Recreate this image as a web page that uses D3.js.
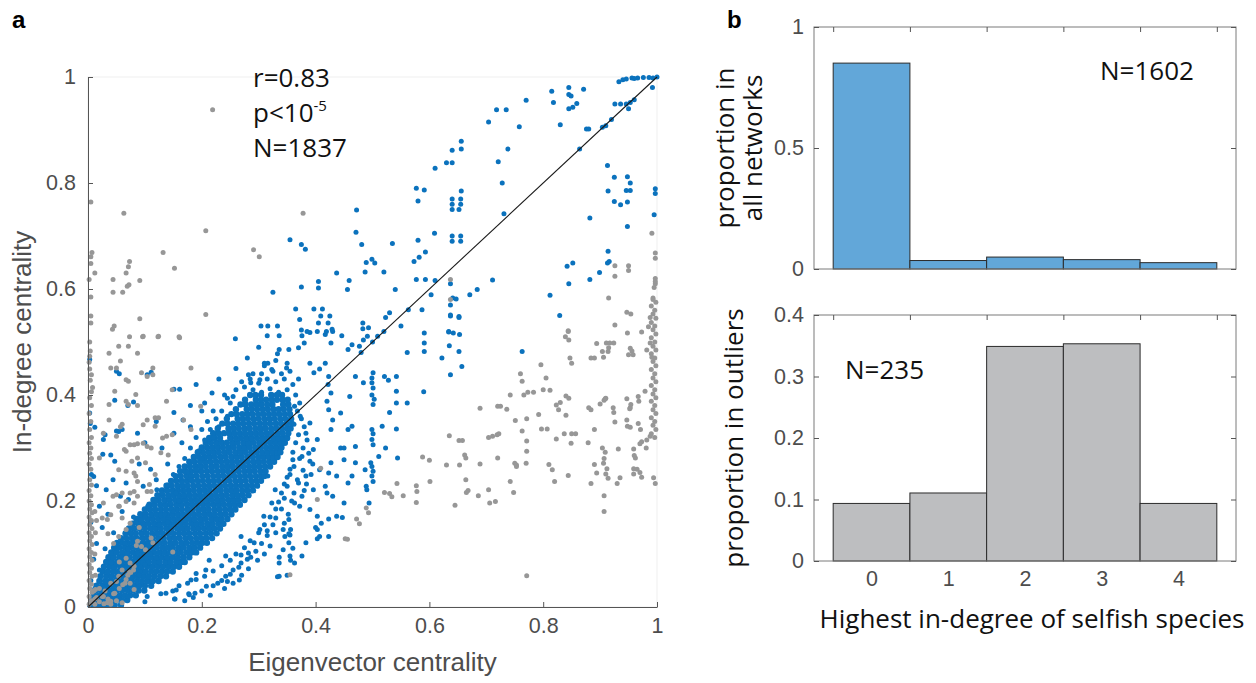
<!DOCTYPE html>
<html>
<head>
<meta charset="utf-8">
<script src="https://cdn.jsdelivr.net/npm/d3@7"></script>
<style>
  html, body { margin: 0; padding: 0; background: #fff; }
  svg { display: block; }
  .tick text { font-family: "Liberation Sans", Arial, sans-serif; }
</style>
</head>
<body>
<svg id="fig" width="1256" height="683"></svg>
<script>
// ---------- panel a: eigenvector vs in-degree centrality ----------
const scatterTicks = [0, 0.2, 0.4, 0.6, 0.8, 1];

// Dense core of the non-outlier networks: rows of [inDegree, [eigenvector values]]
const coreRows = [
  [.004, [.004,.012,.021,.029,.038,.047,.058]],
  [.013, [.006,.015,.024,.033,.041,.05,.06,.069]],
  [.022, [.01,.019,.028,.037,.046,.056,.065,.074,.084]],
  [.031, [.013,.023,.032,.041,.05,.06,.07,.079,.089,.099]],
  [.040, [.015,.025,.034,.044,.053,.062,.072,.081,.09,.1,.111]],
  [.049, [.02,.03,.039,.048,.058,.067,.076,.086,.095,.105,.114,.124]],
  [.058, [.022,.032,.041,.051,.06,.07,.079,.088,.098,.107,.117,.127,.137]],
  [.067, [.026,.035,.045,.054,.064,.073,.083,.092,.101,.111,.12,.13,.139,.149]],
  [.076, [.028,.038,.047,.057,.066,.075,.085,.094,.104,.113,.123,.132,.142,.151,.16]],
  [.085, [.032,.041,.051,.06,.07,.079,.089,.098,.107,.117,.126,.136,.145,.155,.164,.17]],
  [.094, [.036,.045,.055,.064,.073,.083,.092,.102,.111,.121,.13,.139,.149,.158,.168,.178]],
  [.103, [.041,.05,.06,.069,.079,.088,.097,.107,.116,.126,.135,.144,.154,.163,.173,.182,.19]],
  [.112, [.046,.055,.065,.074,.084,.093,.102,.112,.121,.131,.14,.149,.159,.168,.178,.187,.197]],
  [.121, [.051,.06,.07,.079,.088,.098,.107,.117,.126,.135,.145,.154,.164,.173,.183,.192,.201,.209]],
  [.130, [.058,.067,.077,.086,.096,.105,.114,.124,.133,.143,.152,.161,.171,.18,.19,.199,.208,.218]],
  [.139, [.066,.075,.084,.094,.103,.113,.122,.131,.141,.15,.16,.169,.178,.188,.197,.207,.216,.226]],
  [.148, [.072,.081,.091,.1,.11,.119,.128,.138,.147,.157,.166,.175,.185,.194,.204,.213,.222,.232]],
  [.157, [.078,.088,.097,.106,.116,.125,.135,.144,.153,.163,.172,.182,.191,.2,.21,.219,.229,.238]],
  [.166, [.085,.094,.104,.113,.123,.132,.141,.151,.16,.17,.179,.188,.198,.207,.217,.226,.235,.245]],
  [.175, [.092,.101,.111,.12,.129,.139,.148,.158,.167,.176,.186,.195,.205,.214,.223,.233,.242,.252]],
  [.184, [.1,.109,.118,.128,.137,.147,.156,.165,.175,.184,.194,.203,.212,.222,.231,.241,.25,.259]],
  [.193, [.108,.117,.127,.136,.145,.155,.164,.174,.183,.192,.202,.211,.221,.23,.239,.249,.258,.267]],
  [.202, [.115,.124,.134,.143,.153,.162,.171,.181,.19,.2,.209,.218,.228,.237,.247,.256,.265,.275]],
  [.211, [.122,.131,.141,.15,.16,.169,.178,.188,.197,.207,.216,.225,.235,.244,.254,.263,.272,.282]],
  [.220, [.13,.139,.149,.158,.167,.177,.186,.196,.205,.214,.224,.233,.243,.252,.261,.271,.28,.29]],
  [.229, [.138,.147,.157,.166,.175,.185,.194,.204,.213,.222,.232,.241,.251,.26,.269,.279,.288,.297]],
  [.238, [.146,.155,.165,.174,.183,.193,.202,.212,.221,.23,.24,.249,.259,.268,.277,.287,.296,.304]],
  [.247, [.154,.163,.173,.182,.191,.201,.21,.22,.229,.238,.248,.257,.267,.276,.285,.295,.304,.31]],
  [.256, [.162,.171,.181,.19,.199,.209,.218,.228,.237,.246,.256,.265,.275,.284,.293,.303,.312]],
  [.265, [.17,.179,.189,.198,.207,.217,.226,.236,.245,.254,.264,.273,.283,.292,.301,.311,.32]],
  [.274, [.178,.187,.197,.206,.215,.225,.234,.244,.253,.262,.272,.281,.291,.3,.309,.319,.327]],
  [.283, [.186,.195,.205,.214,.223,.233,.242,.252,.261,.27,.28,.289,.299,.308,.317,.326,.333]],
  [.292, [.193,.202,.212,.221,.23,.24,.249,.259,.268,.277,.287,.296,.306,.315,.324,.333,.338]],
  [.301, [.2,.209,.219,.228,.237,.247,.256,.266,.275,.284,.294,.303,.313,.322,.331,.34]],
  [.310, [.207,.216,.226,.235,.244,.254,.263,.273,.282,.291,.301,.31,.32,.329,.338,.346]],
  [.319, [.213,.222,.232,.25,.26,.269,.279,.288,.297,.307,.316,.326,.335,.344,.35]],
  [.328, [.22,.229,.239,.248,.257,.267,.276,.286,.295,.304,.314,.323,.333,.342,.352]],
  [.337, [.228,.247,.256,.265,.275,.284,.294,.303,.312,.322,.331,.341,.35,.356]],
  [.346, [.236,.245,.255,.264,.273,.283,.292,.302,.311,.32,.33,.339,.349,.358]],
  [.355, [.244,.263,.272,.281,.291,.3,.31,.319,.328,.338,.347,.357]],
  [.364, [.252,.261,.271,.28,.289,.299,.308,.318,.327,.336,.346,.355]],
  [.373, [.26,.279,.288,.297,.307,.316,.326,.335,.344,.354]],
  [.382, [.268,.277,.287,.296,.305,.315,.324,.343,.352]],
  [.391, [.276,.295,.304,.313,.323,.332,.342,.351]],
  [.400, [.285,.294,.304,.322,.332,.341]]
];

// Non-outlier networks around the core, where the cloud thins out: [eigenvector, inDegree]
const blueFringe = [
  [.365,.40],[.372,.385],[.368,.37],[.375,.355],[.362,.345],[.38,.34],[.37,.325],[.385,.315],[.365,.31],
  [.378,.3],[.36,.292],[.372,.28],[.388,.29],[.395,.27],[.362,.265],[.378,.258],[.392,.25],[.355,.25],
  [.368,.24],[.384,.232],[.35,.228],[.362,.215],[.38,.22],[.345,.205],[.358,.2],[.372,.19],[.34,.185],
  [.352,.175],[.33,.168],[.345,.158],[.325,.155],[.315,.135],[.33,.14],[.305,.12],[.32,.115],[.295,.105],
  [.31,.1],[.28,.09],[.298,.088],[.265,.075],[.282,.072],[.25,.062],[.27,.06],[.235,.05],[.255,.045],
  [.22,.04],[.24,.035],[.2,.03],[.215,.022],[.185,.018],[.17,.012],[.16,.04],[.175,.045],[.19,.052],
  [.205,.058],[.22,.068],[.235,.078],[.25,.088],[.26,.1],[.275,.112],[.285,.125],[.3,.14],[.31,.155],
  [.32,.17],[.33,.185],[.335,.198],[.34,.215],[.345,.232],[.35,.245],[.355,.26],[.36,.278],
  [.26,.41],[.275,.415],[.29,.41],[.305,.405],[.32,.412],[.335,.405],[.35,.41],[.27,.425],[.285,.43],
  [.3,.422],[.315,.43],[.33,.425],[.345,.43],[.36,.42],[.305,.44],[.325,.445],[.34,.44],[.355,.445],
  [.37,.43],[.31,.455],[.33,.465],[.35,.46],[.24,.4],[.25,.385],[.235,.37],[.245,.36],[.225,.355],
  [.23,.34],[.215,.335],[.22,.32],[.205,.315],[.21,.3],[.195,.295],[.2,.28],[.185,.275],[.19,.26],
  [.175,.255],[.18,.24],[.165,.235],[.17,.22],[.155,.215],[.16,.2],[.145,.195],[.15,.18],[.135,.175],
  [.14,.16],[.125,.155],[.13,.14],[.115,.135],[.12,.12],[.105,.115],[.11,.1],[.095,.095],[.1,.08],
  [.085,.075],[.09,.06],[.075,.055],[.08,.04],[.065,.035],[.07,.02],[.055,.015],
  [.12,.2],[.105,.19],[.13,.215],[.14,.23],[.12,.24],[.15,.25],[.16,.265],[.14,.27],[.17,.28],[.18,.3],
  [.165,.31],[.19,.32],[.2,.335],[.18,.34],[.21,.35],[.22,.37],[.205,.385],[.09,.15],[.08,.13],[.07,.11],
  [.06,.095],[.05,.08],[.1,.17],[.085,.16],[.075,.14],[.065,.12]
];

// Non-outlier networks scattered away from the core: [eigenvector, inDegree]
const blueScatter = [
  [.003,.467],[.003,.366],[.004,.346],[.012,.339],[.03,.325],[.05,.332],[.026,.288],[.006,.25],[.015,.229],
  [.07,.38],[.08,.387],[.047,.39],[.05,.445],[.055,.44],[.111,.443],[.104,.438],[.161,.411],[.151,.411],
  [.218,.404],[.245,.394],[.255,.397],[.151,.367],[.167,.353],[.027,.316],[.06,.335],[.054,.331],[.087,.328],
  [.151,.328],[.04,.287],[.047,.275],[.01,.246],[.044,.24],[.067,.234],[.032,.221],[.057,.209],[.071,.203],
  [.097,.228],[.121,.221],[.02,.19],[.035,.175],[.06,.18],[.08,.17],[.005,.16],[.025,.15],[.045,.14],
  [.015,.12],[.03,.11],[.01,.09],[.02,.07],[.005,.05],[.012,.035],[.09,.27],[.11,.26],[.13,.3],[.1,.31],
  [.12,.35],[.18,.38],[.2,.37],[.19,.42],[.23,.43],[.26,.45],[.28,.47],[.3,.49],[.29,.44],[.31,.46],
  [.259,.506],[.282,.438],[.286,.423],[.302,.429],[.316,.46],[.323,.448],[.336,.486],[.333,.478],
  [.349,.451],[.353,.486],[.37,.489],[.376,.512],[.38,.498],[.39,.518],[.403,.52],[.417,.514],[.427,.498],[.43,.52],
  [.39,.46],[.397,.442],[.407,.449],[.417,.46],[.423,.435],[.422,.42],[.427,.404],[.42,.388],[.423,.372],
  [.43,.353],[.427,.335],[.444,.3],[.45,.3],[.427,.272],[.423,.253],[.417,.228],[.42,.215],
  [.457,.486],[.464,.495],[.477,.492],[.484,.504],[.47,.435],[.484,.423],[.46,.397],[.464,.341],[.47,.272],
  [.464,.247],[.457,.234],[.487,.259],[.489,.228],[.497,.272],[.49,.221],[.494,.196],
  [.501,.442],[.499,.432],[.499,.423],[.501,.413],[.499,.40],[.503,.392],[.501,.382],[.499,.335],[.501,.327],
  [.499,.316],[.501,.306],[.499,.265],[.501,.256],[.499,.247],[.501,.237],
  [.521,.435],[.528,.428],[.542,.435],[.542,.407],[.542,.385],[.542,.336],[.544,.281],[.53,.367],[.523,.3],
  [.517,.341],[.511,.284],[.561,.48],[.561,.385],[.59,.406],[.591,.517],[.591,.498],[.591,.482],
  [.622,.47],[.637,.438],[.657,.454],[.652,.482],[.635,.493],[.642,.517],[.653,.514],
  [.363,.379],[.373,.36],[.39,.347],[.383,.328],[.403,.316],[.396,.297],[.376,.284],[.39,.275],[.407,.259],
  [.383,.247],[.37,.234],[.396,.221],[.376,.209],[.363,.196],[.39,.184],[.403,.171],[.353,.165],[.343,.146],
  [.346,.133],[.353,.121],[.343,.108],[.355,.096],[.356,.146],[.355,.136],[.36,.111],[.336,.083],[.336,.058],
  [.309,.171],[.302,.146],[.292,.121],[.282,.102],[.269,.083],[.255,.07],[.242,.058],[.228,.045],[.208,.039],
  [.188,.026],[.269,.133],[.242,.096],[.323,.196],[.329,.221],[.316,.247],[.444,.366],[.457,.335],[.47,.303],
  [.45,.278],[.437,.247],[.43,.209],[.45,.196],[.437,.171],[.41,.158],[.407,.133],[.423,.133],[.403,.146],
  [.383,.121],[.376,.096],[.363,.083],[.104,.02],[.128,.025],[.149,.03],[.153,.015],[.177,.025],
  [.245,.048],[.266,.051],[.178,.023],[.152,.015],[.1,.01],[.333,.057],[.35,.06],[.356,.088],[.353,.138],
  [.336,.094],[.4,.15],[.403,.129],[.423,.166],[.447,.169],[.315,.144],[.286,.094],[.269,.098],[.213,.088],
  [.207,.07],[.181,.051],[.19,.063],[.155,.032],[.137,.026],
  [.365,.5625],[.372,.5425],[.375,.5225],[.385,.52],[.397,.5625],[.412,.5625],[.405,.536],[.422,.536],
  [.409,.549],[.425,.549],[.429,.524],[.419,.52],[.446,.512],[.483,.536],[.483,.525],[.493,.527],[.491,.511],
  [.509,.511],[.523,.546],[.53,.555],[.54,.599],[.563,.561],[.577,.618],[.593,.618],[.61,.616],[.603,.589],
  [.587,.561],[.637,.549],[.652,.546],[.634,.519],[.304,.53],[.316,.53],[.333,.53],[.336,.512],[.315,.512],
  [.933,.991],[.946,.996],[.956,.998],[.966,.998],[.976,.999],[.986,.999],[.993,.998],[1,1],[.992,.98],
  [.94,.995],[.96,.997],[.926,.949],[.936,.949],[.946,.949],[.953,.952],[.96,.957],[.95,.94],
  [.92,.92],[.904,.905],[.91,.908],[.876,.902],[.88,.902],[.864,.864],
  [.845,.98],[.845,.967],[.849,.964],[.845,.94],[.852,.943],[.859,.95],[.815,.973],[.818,.952],[.83,.91],
  [.871,.977],[.77,.956],[.758,.906],[.704,.915],[.718,.938],[.735,.938],
  [.656,.879],[.656,.864],[.64,.862],[.64,.838],[.63,.838],[.61,.828],[.721,.84],[.738,.864],[.728,.80],[.731,.742],
  [.577,.79],[.591,.787],[.58,.766],[.64,.77],[.655,.77],[.64,.76],[.655,.76],[.64,.75],[.652,.75],[.656,.785],
  [.472,.749],[.471,.707],[.481,.684],[.64,.70],[.655,.70],[.64,.69],[.655,.69],[.609,.705],
  [.58,.692],[.593,.67],[.582,.66],[.573,.652],[.535,.686],[.355,.693],[.375,.684],[.382,.675],
  [.499,.656],[.489,.65],[.504,.649],[.437,.63],[.487,.632],[.52,.632],
  [.405,.614],[.405,.602],[.375,.604],[.459,.616],[.456,.599],[.325,.594],
  [.711,.617],[.684,.599],[.671,.589],[.637,.61],[.641,.583],[.647,.581],[.637,.57],[.637,.551],[.652,.548],[.634,.52],
  [.812,.588],[.829,.55],[.842,.643],[.852,.649],[.845,.61],[.882,.734],[.882,.618],[.899,.631],
  [.913,.833],[.925,.811],[.948,.812],[.953,.80],[.914,.785],[.946,.786],[.953,.786],[.925,.765],[.936,.759],
  [.948,.764],[.948,.718],[.914,.671],[.916,.652],[.913,.649],[.997,.789],[.997,.78],[.995,.74],
  [.763,.482],[.48,.48],[.5,.5],[.52,.52],[.55,.53]
];

// Outlier networks: [eigenvector, inDegree]
const greyPoints = [
  [.219,.938],[.005,.764],[.063,.743],[.378,.743],[.207,.71],
  [.007,.669],[.005,.661],[.005,.648],[.012,.63],[.002,.618],[.073,.652],[.071,.642],[.067,.63],
  [.132,.669],[.152,.639],[.044,.618],[.044,.594],[.061,.594],[.069,.605],[.072,.608],[.091,.616],
  [.291,.674],[.301,.661],[.005,.585],[.005,.549],[.005,.536],[.046,.53],[.043,.524],[.091,.544],[.207,.552],
  [.073,.51],[.096,.51],[.123,.51],[.16,.51],
  [.003,.5],[.004,.483],[.003,.473],[.002,.462],[.003,.449],[.006,.438],[.004,.428],[.008,.414],[.006,.406],
  [.037,.479],[.057,.464],[.054,.492],[.071,.492],[.087,.479],[.097,.511],[.124,.511],[.161,.508],
  [.05,.451],[.04,.451],[.067,.429],[.071,.426],[.094,.442],[.104,.435],[.114,.438],[.114,.451],[.181,.451],
  [.047,.407],[.084,.401],[.148,.41],[.037,.382],[.067,.388],[.071,.382],[.087,.38],[.138,.388],[.198,.379],
  [.037,.353],[.104,.353],[.118,.357],[.124,.357],[.168,.353],[.027,.328],[.05,.322],[.06,.345],[.057,.34],
  [.097,.344],[.118,.341],[.131,.319],[.138,.322],[.148,.325],[.181,.335],
  [.074,.306],[.081,.306],[.087,.308],[.097,.309],[.104,.303],[.111,.3],[.064,.297],[.067,.294],
  [.02,.281],[.087,.281],[.077,.275],[.101,.272],[.128,.291],[.141,.287],
  [.054,.259],[.067,.256],[.081,.253],[.084,.247],[.087,.237],[.108,.231],[.118,.25],
  [.044,.209],[.05,.212],[.06,.215],[.074,.215],[.081,.218],[.087,.209],[.104,.218],[.111,.218],
  [.027,.196],[.054,.19],[.067,.199],[.081,.196],[.04,.174],[.034,.165],[.06,.168],
  [.074,.158],[.067,.146],[.054,.133],[.087,.124],[.094,.114],[.101,.108],[.114,.121],[.111,.13],
  [.067,.092],[.074,.083],[.081,.077],[.06,.07],[.054,.058],[.067,.052],[.074,.045],[.081,.033],[.047,.026],
  [.027,.02],[.04,.011],[.034,.008],[.013,.033],[.015,.163],[.025,.168],[.055,.19],[.035,.138],[.045,.12],
  [.085,.116],[.09,.15],[.055,.085],[.073,.066],[.061,.042],[.05,.048],[.149,.104],
  // column along the vertical axis
  [.002,.005],[.006,.012],[.002,.02],[.007,.028],[.003,.035],[.006,.043],[.002,.05],[.007,.058],[.003,.065],
  [.006,.073],[.002,.08],[.007,.088],[.003,.095],[.006,.103],[.002,.11],[.007,.118],[.003,.125],[.006,.133],
  [.002,.14],[.007,.148],[.003,.155],[.006,.163],[.002,.17],[.007,.178],[.003,.185],[.006,.193],[.002,.2],
  [.005,.21],[.002,.22],[.006,.23],[.003,.24],[.005,.26],[.002,.27],[.006,.28],[.003,.29],[.005,.3],
  [.002,.31],[.006,.32],[.003,.335],[.005,.35],[.002,.365],[.006,.38],[.003,.395],[.012,.015],[.013,.06],
  [.012,.1],[.013,.14],[.012,.18],
  // cluster near the origin
  [.012,.005],[.02,.01],[.028,.006],[.015,.018],[.025,.02],[.035,.015],[.04,.005],[.01,.03],[.02,.035],
  [.03,.03],[.045,.025],[.05,.012],[.06,.008],[.055,.035],[.065,.045],[.07,.06],[.075,.065],[.04,.045],[.08,.07],
  // right-hand outliers
  [.689,.375],[.72,.379],[.725,.379],[.736,.373],[.742,.40],[.76,.44],[.763,.426],[.766,.40],[.773,.405],
  [.783,.405],[.796,.457],[.8,.41],[.812,.409],[.805,.432],[.792,.363],[.751,.352],[.771,.355],[.763,.332],
  [.797,.336],[.807,.336],[.823,.381],[.83,.386],[.827,.372],[.84,.398],[.845,.394],[.84,.362],[.837,.327],
  [.85,.327],[.857,.327],[.823,.317],[.849,.309],[.847,.47],[.85,.46],[.845,.504],[.844,.52],[.884,.47],
  [.89,.47],[.894,.497],[.884,.372],[.88,.376],[.879,.31],[.89,.335],[.884,.233],[.635,.323],[.652,.314],
  [.658,.314],[.662,.287],[.664,.281],[.664,.24],[.665,.216],[.668,.22],[.686,.21],[.704,.221],[.706,.196],
  [.716,.199],[.72,.281],[.742,.237],[.748,.216],[.704,.32],[.711,.322],[.719,.325],[.722,.327],[.689,.27],
  [.753,.268],[.75,.271],[.753,.265],[.77,.271],[.771,.294],[.771,.313],[.81,.269],[.816,.259],[.82,.237],
  [.844,.248],[.771,.059],[.63,.268],[.653,.268],[.645,.192],[.588,.283],[.6,.277],[.577,.229],[.578,.218],
  [.577,.197],[.601,.237],[.554,.21],[.543,.233],[.521,.216],[.53,.214],[.534,.208],[.489,.187],[.493,.178],
  [.472,.166],[.477,.157],[.456,.128],[.403,.203],[.409,.262],[.355,.061],[.452,.129],
  [.637,.618],[.637,.58],[.844,.521],[.839,.51],
  [.991,.705],[.997,.668],[.997,.658],[.926,.644],[.95,.644],[.95,.635],[.926,.624],[.997,.62],[.997,.61],
  [.915,.583],[.947,.556],[.954,.553],[.988,.546],[.985,.529],[.973,.519],[.988,.498],[.982,.485],[.991,.471],
  [.926,.532],[.915,.489],[.906,.471],[.953,.488],[.956,.483],[.947,.393],[.909,.393],[.923,.376],[.953,.376],
  [.967,.397],[.979,.407],[.926,.349],[.947,.353],[.953,.339],[.967,.346],[.973,.312],[.97,.308],[.959,.298],
  [.982,.315],[.988,.322],[.932,.298],[.909,.292],[.906,.271],[.959,.261],[.962,.281],[.97,.254],[.994,.244],
  [.935,.244],[.912,.261],[.907,.21],[.907,.18],[.914,.243],[.93,.233],[.96,.286],[.971,.335],[.981,.30],
  [.904,.482],[.911,.498],[.917,.498],[.924,.498],[.914,.482],[.948,.517],[.95,.476],[.958,.476],
  [.9,.383],[.907,.39],[.91,.394],[.924,.367],[.904,.30],[.907,.28],[.89,.269],[.894,.253],[.91,.251],
  [.948,.341],[.952,.374],[.954,.382],[.968,.388],[.965,.26],[.959,.251],[.973,.245],
  // column at eigenvector centrality = 1
  [.993,.583],[.998,.575],[.99,.568],[.996,.56],[.993,.553],[.998,.545],[.99,.537],[.996,.53],[.993,.523],
  [.998,.515],[.99,.508],[.996,.5],[.993,.492],[.998,.485],[.99,.478],[.996,.47],[.993,.463],[.998,.455],
  [.99,.448],[.996,.44],[.993,.432],[.998,.425],[.99,.418],[.996,.41],[.993,.402],[.998,.395],[.99,.388],
  [.996,.38],[.993,.372],[.998,.365],[.99,.357],[.996,.35],[.993,.343],[.998,.335],[.99,.327],[.996,.32],
  [.997,.614],[.995,.603],[.993,.58],[.997,.233]
];

const statLines = ["r=0.83", "p<10", "N=1837"];

// ---------- panel b: histograms ----------
const degreeBins = [0, 1, 2, 3, 4];
const allNetworkProp = [0.8508, 0.035, 0.0493, 0.0387, 0.0262];
const outlierProp = [0.0936, 0.1106, 0.3489, 0.3532, 0.0936];
const topTicks = [0, 0.5, 1];
const bottomTicks = [0, 0.1, 0.2, 0.3, 0.4];

const BLUE = "#0b72bd", GREY = "#979797";
const AXIS = "#555555", TICKTXT = "#4d4d4d";
const LAB = "Open Sans, sans-serif";
const svg = d3.select("#fig");

// scales
const x = d3.scaleLinear().domain([0, 1]).range([88, 657]);
const y = d3.scaleLinear().domain([0, 1]).range([607, 77]);
const xb = d3.scaleLinear().domain([-0.75, 4.75]).range([814, 1236]);
const yTop = d3.scaleLinear().domain([0, 1]).range([269, 27]);
const yBot = d3.scaleLinear().domain([0, 0.4]).range([561, 315]);

// ----- panel a -----
const gA = svg.append("g");
gA.append("rect").attr("x", x(0)).attr("y", y(1)).attr("width", x(1) - x(0)).attr("height", y(0) - y(1))
  .attr("fill", "none").attr("stroke", "#efefef").attr("stroke-width", 1);

const corePts = coreRows.flatMap(([yy, xs]) => xs.map(xx => [xx, yy]));
const dots = gA.append("g");
dots.selectAll("circle.core").data(corePts).join("circle").attr("class", "core")
  .attr("cx", d => x(d[0])).attr("cy", d => y(d[1])).attr("r", 3.2).attr("fill", BLUE);
dots.selectAll("circle.fringe").data(blueFringe).join("circle").attr("class", "fringe")
  .attr("cx", d => x(d[0])).attr("cy", d => y(d[1])).attr("r", 2.5).attr("fill", BLUE);
dots.selectAll("circle.blue").data(blueScatter).join("circle").attr("class", "blue")
  .attr("cx", d => x(d[0])).attr("cy", d => y(d[1])).attr("r", 2.5).attr("fill", BLUE);
dots.selectAll("circle.grey").data(greyPoints).join("circle").attr("class", "grey")
  .attr("cx", d => x(d[0])).attr("cy", d => y(d[1])).attr("r", 2.5).attr("fill", GREY);

// identity line
gA.append("line").attr("x1", x(0)).attr("y1", y(0)).attr("x2", x(1)).attr("y2", y(1))
  .attr("stroke", "#1a1a1a").attr("stroke-width", 1.1);

function styleAxis(g) {
  g.select(".domain").attr("stroke", AXIS).attr("stroke-width", 1);
  g.selectAll(".tick line").attr("stroke", AXIS);
  g.selectAll(".tick text").attr("fill", TICKTXT).attr("font-size", 21.5);
}
const fmt = d => d3.format("~g")(d);
gA.append("g").attr("transform", `translate(0,${y(0)})`)
  .call(d3.axisBottom(x).tickValues(scatterTicks).tickFormat(fmt).tickSize(-5).tickSizeOuter(0).tickPadding(11))
  .call(styleAxis);
gA.append("g").attr("transform", `translate(${x(0)},0)`)
  .call(d3.axisLeft(y).tickValues(scatterTicks).tickFormat(fmt).tickSize(-5).tickSizeOuter(0).tickPadding(12))
  .call(styleAxis);

gA.append("text").attr("x", (x(0) + x(1)) / 2).attr("y", 671).attr("text-anchor", "middle")
  .attr("font-family", "Liberation Sans, Arial, sans-serif").attr("font-size", 26).attr("fill", TICKTXT)
  .text("Eigenvector centrality");
gA.append("text").attr("transform", `translate(31,${(y(0) + y(1)) / 2}) rotate(-90)`).attr("text-anchor", "middle")
  .attr("font-family", "Liberation Sans, Arial, sans-serif").attr("font-size", 26).attr("fill", TICKTXT)
  .text("In-degree centrality");

const stat = gA.append("text").attr("font-family", LAB).attr("font-size", 26).attr("fill", "#111");
stat.append("tspan").attr("x", 253).attr("y", 87).text(statLines[0]);
stat.append("tspan").attr("x", 253).attr("y", 122).text(statLines[1]);
stat.append("tspan").attr("dy", -11).attr("font-size", 15).text("-5");
stat.append("tspan").attr("x", 253).attr("y", 157).text(statLines[2]);

svg.append("text").attr("x", 12).attr("y", 28).attr("font-family", "Liberation Sans, Arial, sans-serif")
  .attr("font-weight", "bold").attr("font-size", 24).text("a");
svg.append("text").attr("x", 727).attr("y", 28).attr("font-family", "Liberation Sans, Arial, sans-serif")
  .attr("font-weight", "bold").attr("font-size", 24).text("b");

// ----- panel b -----
function histPanel(values, yS, ticks, fill, showX) {
  const g = svg.append("g");
  g.selectAll("rect.bar").data(values).join("rect").attr("class", "bar")
    .attr("x", (d, i) => xb(degreeBins[i] - 0.5)).attr("width", (d, i) => xb(degreeBins[i] + 0.5) - xb(degreeBins[i] - 0.5))
    .attr("y", d => yS(d)).attr("height", d => yS(0) - yS(d))
    .attr("fill", fill).attr("stroke", "#2b2b2b").attr("stroke-width", 1);
  const [r0, r1] = xb.range();
  const [b0, t0] = yS.range();
  g.append("rect").attr("x", r0).attr("y", t0).attr("width", r1 - r0).attr("height", b0 - t0)
    .attr("fill", "none").attr("stroke", "#7a7a7a").attr("stroke-width", 1);
  g.append("g").attr("transform", `translate(${r0},0)`)
    .call(d3.axisLeft(yS).tickValues(ticks).tickFormat(fmt).tickSize(-5).tickSizeOuter(0).tickPadding(10))
    .call(styleAxis).call(a => a.select(".domain").remove());
  g.append("g").attr("transform", `translate(${r1},0)`)
    .call(d3.axisRight(yS).tickValues(ticks).tickFormat("").tickSize(-5).tickSizeOuter(0))
    .call(styleAxis).call(a => a.select(".domain").remove());
  g.append("g").attr("transform", `translate(0,${t0})`)
    .call(d3.axisTop(xb).tickValues(degreeBins.map(d => d - 0.5).concat([4.5])).tickFormat("").tickSize(-5).tickSizeOuter(0))
    .call(styleAxis).call(a => a.select(".domain").remove());
  if (showX) {
    g.append("g").attr("transform", `translate(0,${b0})`)
      .call(d3.axisBottom(xb).tickValues(degreeBins).tickFormat(d3.format("d")).tickSize(0).tickPadding(10))
      .call(styleAxis).call(a => a.select(".domain").remove());
  }
  return g;
}
histPanel(allNetworkProp, yTop, topTicks, "#62a7d9", false);
histPanel(outlierProp, yBot, bottomTicks, "#bdbec0", true);

svg.append("text").attr("x", 1100).attr("y", 80).attr("font-family", LAB).attr("font-size", 26).attr("fill", "#111").text("N=1602");
svg.append("text").attr("x", 845).attr("y", 379).attr("font-family", LAB).attr("font-size", 26).attr("fill", "#111").text("N=235");

const ylab1 = svg.append("text").attr("transform", `translate(734,${(yTop(0) + yTop(1)) / 2}) rotate(-90)`)
  .attr("text-anchor", "middle").attr("font-family", LAB).attr("font-size", 26).attr("fill", "#111");
ylab1.append("tspan").attr("x", 0).attr("dy", 0).text("proportion in");
ylab1.append("tspan").attr("x", 0).attr("dy", 28).text("all networks");
svg.append("text").attr("transform", `translate(743,${(yBot(0) + yBot(0.4)) / 2}) rotate(-90)`)
  .attr("text-anchor", "middle").attr("font-family", LAB).attr("font-size", 26).attr("fill", "#111")
  .text("proportion in outliers");
svg.append("text").attr("x", 1032).attr("y", 628).attr("text-anchor", "middle")
  .attr("font-family", LAB).attr("font-size", 26).attr("fill", "#111").text("Highest in-degree of selfish species");
</script>
</body>
</html>
